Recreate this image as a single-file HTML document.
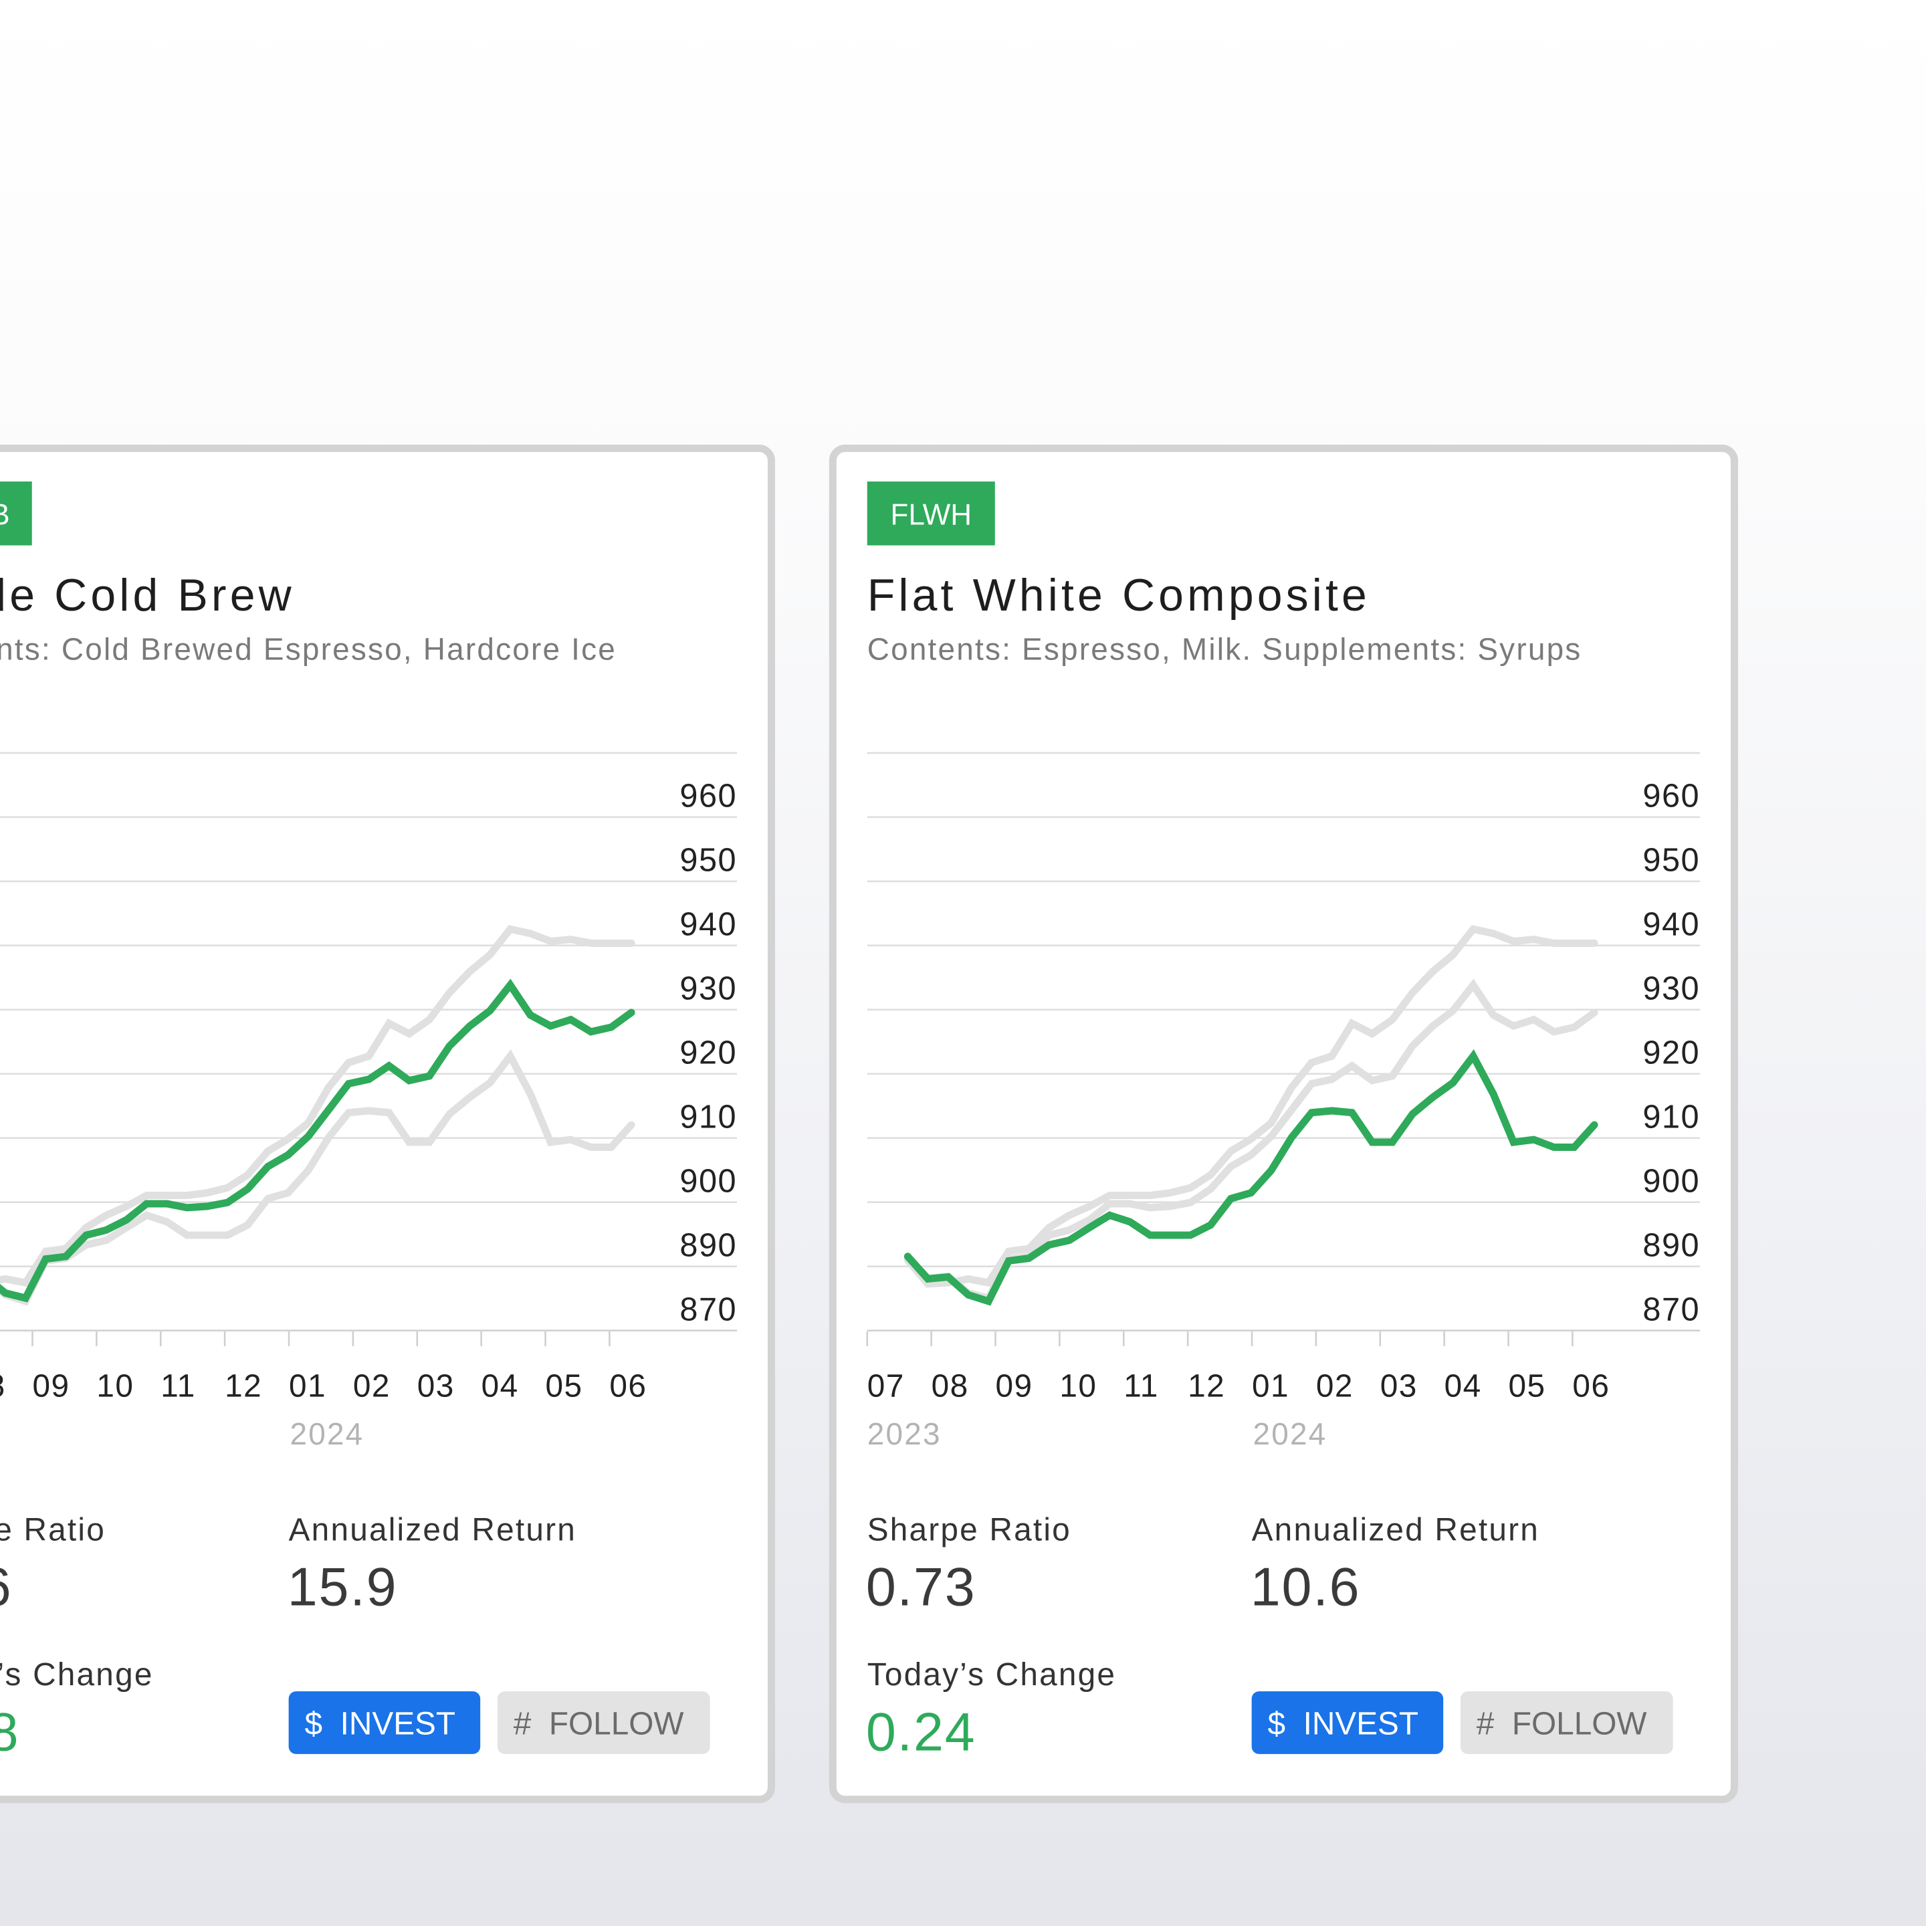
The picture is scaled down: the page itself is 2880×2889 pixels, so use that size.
<!DOCTYPE html>
<html><head><meta charset="utf-8"><style>
html,body{margin:0;padding:0;width:2880px;height:2880px;overflow:hidden;background:#fff}
#stage{position:absolute;left:0;top:0;width:1568px;height:1568px;transform:scale(1.836735);transform-origin:0 0;
background:linear-gradient(180deg,#ffffff 0%,#fbfbfc 25%,#f1f2f5 60%,#e4e6ec 100%)}
svg text{font-family:"Liberation Sans",sans-serif}
.t{letter-spacing:2.8px}.s{letter-spacing:1.2px}.l{letter-spacing:1.2px}.v{letter-spacing:1px}
</style></head><body>
<div id="stage">
<svg id="svg" width="1568" height="1568" viewBox="0 0 1568 1568">
<g>
<rect x="-106" y="365" width="734" height="1100" rx="10" fill="#fff" stroke="#d3d3d3" stroke-width="6"/>
<rect x="-78" y="392" width="104" height="52" fill="#2eaa5a"/>
<text x="8" y="427" font-size="24" fill="#fff" text-anchor="end">HCCB</text>
<text class="t" x="240" y="497" font-size="37" fill="#1e1e1e" text-anchor="end">Hardcode Cold Brew</text>
<text class="s" x="502" y="537" font-size="25" fill="#7a7a7a" text-anchor="end">Contents: Cold Brewed Espresso, Hardcore Ice</text>
<text class="l" x="86" y="1254" font-size="26" fill="#333" text-anchor="end">Sharpe Ratio</text>
<text class="v" x="10" y="1307" font-size="44" fill="#3a3a3a" text-anchor="end">0.86</text>
<text class="l" x="235" y="1254" font-size="26" fill="#333">Annualized Return</text>
<text class="v" x="234" y="1307" font-size="44" fill="#3a3a3a">15.9</text>
<text class="l" x="125" y="1372" font-size="26" fill="#333" text-anchor="end">Today’s Change</text>
<text class="v" x="16" y="1425" font-size="44" fill="#2eaa5a" text-anchor="end">0.38</text>
<g><rect x="235" y="1377" width="156" height="51" rx="6" fill="#1a73e8"/><text x="248" y="1412" font-size="26" fill="#fff" xml:space="preserve">$  INVEST</text></g>
<g><rect x="405" y="1377" width="173" height="51" rx="6" fill="#e3e3e3"/><text x="418" y="1412" font-size="26" fill="#6b6b6b" xml:space="preserve">#  FOLLOW</text></g>
<text class="s" x="236" y="1176" font-size="25" fill="#b3b3b3">2024</text>
<g id="chartL"></g>
</g>
<g>
<rect x="678" y="365" width="734" height="1100" rx="10" fill="#fff" stroke="#d3d3d3" stroke-width="6"/>
<rect x="706" y="392" width="104" height="52" fill="#2eaa5a"/>
<text x="758" y="427" font-size="24" fill="#fff" text-anchor="middle">FLWH</text>
<text class="t" x="706" y="497" font-size="37" fill="#1e1e1e">Flat White Composite</text>
<text class="s" x="706" y="537" font-size="25" fill="#7a7a7a">Contents: Espresso, Milk. Supplements: Syrups</text>
<text class="l" x="706" y="1254" font-size="26" fill="#333">Sharpe Ratio</text>
<text class="v" x="705" y="1307" font-size="44" fill="#3a3a3a">0.73</text>
<text class="l" x="1019" y="1254" font-size="26" fill="#333">Annualized Return</text>
<text class="v" x="1018" y="1307" font-size="44" fill="#3a3a3a">10.6</text>
<text class="l" x="706" y="1372" font-size="26" fill="#333">Today’s Change</text>
<text class="v" x="705" y="1425" font-size="44" fill="#2eaa5a">0.24</text>
<g><rect x="1019" y="1377" width="156" height="51" rx="6" fill="#1a73e8"/><text x="1032" y="1412" font-size="26" fill="#fff" xml:space="preserve">$  INVEST</text></g>
<g><rect x="1189" y="1377" width="173" height="51" rx="6" fill="#e3e3e3"/><text x="1202" y="1412" font-size="26" fill="#6b6b6b" xml:space="preserve">#  FOLLOW</text></g>
<text class="s" x="706" y="1176" font-size="25" fill="#b3b3b3">2023</text>
<text class="s" x="1020" y="1176" font-size="25" fill="#b3b3b3">2024</text>
<g id="chartR"></g>
</g>
</svg>
</div>
<script>
const yTickLabels = ["960","950","940","930","920","910","900","890","870"];
const monthLabels = ["07","08","09","10","11","12","01","02","03","04","05","06"];
const seriesA = [891.1,887.4,887.6,888.2,887.6,892.5,892.9,896.2,898.1,899.5,901.2,901.2,901.2,901.6,902.4,904.4,908.1,910.0,912.5,918.0,921.9,922.9,928.0,926.4,928.6,932.8,936.1,938.7,942.7,942.0,940.8,941.1,940.5,940.5,940.5];
const seriesB = [891.5,888.3,888.6,886.0,885.2,891.3,891.7,895.0,895.8,897.4,899.9,899.9,899.3,899.5,900.1,902.2,905.7,907.5,910.4,914.5,918.6,919.3,921.4,919.1,919.8,924.5,927.6,930.0,934.0,929.3,927.6,928.6,926.7,927.4,929.7];
const seriesC = [891.7,888.2,888.5,885.7,884.7,891.0,891.4,893.5,894.2,896.2,898.1,897.1,895.0,895.0,895.0,896.6,900.7,901.6,905.1,910.2,914.1,914.4,914.1,909.5,909.5,913.9,916.5,918.75,922.9,917.0,909.5,909.9,908.7,908.7,912.2];
const NS="http://www.w3.org/2000/svg";
function yScale(v){return 666+(960-v)*5.225;}
function mk(tag,attrs,parent){const e=document.createElementNS(NS,tag);for(const k in attrs)e.setAttribute(k,attrs[k]);parent.appendChild(e);return e;}
function drawChart(g,x0,highlight,prefix){
  const xRight=x0+678;
  function xMonth(i){return x0+i*52.2;}
  function xPoint(i){return x0+33+i*(559/(seriesA.length-1));}
  for(let i=0;i<=9;i++){
    const y=613+i*52.25;
    const l=mk('line',{x1:x0,x2:xRight,y1:y,y2:y,stroke:i==9?'#cfcfcf':'#dedede','stroke-width':1.4},g);
    
    
  }
  yTickLabels.forEach((t,i)=>{
    const tx=mk('text',{x:xRight,y:657+i*52.25,'font-size':26.5,fill:'#222','text-anchor':'end','letter-spacing':0.8},g);
    tx.textContent=t;
    
    
  });
  monthLabels.forEach((m,i)=>{
    const x=xMonth(i);
    const tk=mk('line',{x1:x,x2:x,y1:1084,y2:1096,stroke:'#cfcfcf','stroke-width':1.4},g);
    
    
    const tx=mk('text',{x:x,y:1137,'font-size':26,fill:'#222','letter-spacing':0.8},g);
    tx.textContent=m;
    
    
  });
  const all={A:seriesA,B:seriesB,C:seriesC};
  const order=['A','B','C'].filter(k=>k!==highlight).concat([highlight]);
  order.forEach(k=>{
    const d=all[k].map((v,i)=>(i?'L':'M')+xPoint(i).toFixed(1)+','+yScale(v).toFixed(1)).join('');
    const p=mk('path',{d:d,fill:'none',stroke:k===highlight?'#2eaa5a':'#e0e0e0','stroke-width':6,'stroke-linecap':'round','stroke-linejoin':'miter'},g);
    
    
  });
}
drawChart(document.getElementById('chartL'),-78,'B','left');
drawChart(document.getElementById('chartR'),706,'C','right');
</script>
</body></html>
